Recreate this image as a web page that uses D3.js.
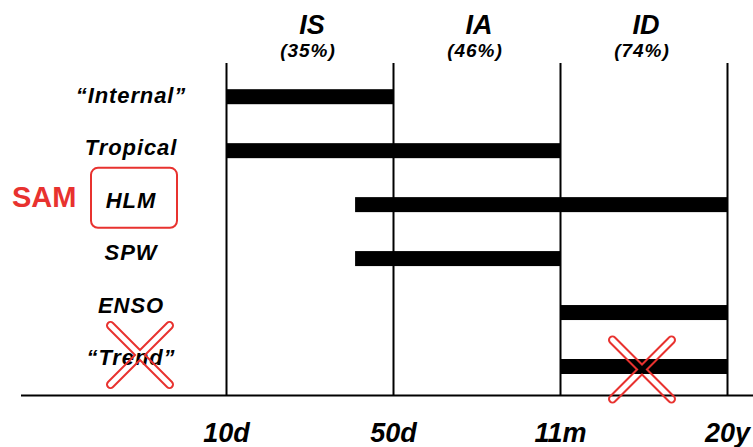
<!DOCTYPE html>
<html>
<head>
<meta charset="utf-8">
<script src="https://cdn.jsdelivr.net/npm/d3@7"></script>
<style>
html,body{margin:0;padding:0;background:#fff;}
svg{display:block;}
text{font-family:"Liberation Sans",Arial,Helvetica,sans-serif;}
</style>
</head>
<body>
<svg id="chart" width="753" height="447"></svg>
<script>
// ---- data ----
const categories = ["\u201CInternal\u201D", "Tropical", "HLM", "SPW", "ENSO", "\u201CTrend\u201D"];
const barStart = [0, 0, 0.77, 0.77, 2, 2];   // in timescale-boundary units
const barEnd   = [1, 2, 3, 2, 3, 3];
const tickLabels = ["10d", "50d", "11m", "20y"];
const classNames = ["IS", "IA", "ID"];
const classPct = ["(35%)", "(46%)", "(74%)"];
const groupLabel = "SAM";
const groupMember = "HLM";
const crossedRows = ["\u201CTrend\u201D"];

const red = "#e8322f";
const W = 753, H = 447;
const svg = d3.select("#chart");

const x = d3.scaleLinear().domain([0, 3]).range([226.5, 727.5]);
const yBar = d3.scalePoint().domain(categories).range([96.7, 366.5]);
const yLab = d3.scalePoint().domain(categories).range([103, 365]);
const baseY = 395.5, topY = 63;
const barH = 15;
const labelX = 131;

// vertical boundary lines
svg.append("g").selectAll("line").data(tickLabels).join("line")
  .attr("x1", (d, i) => x(i)).attr("x2", (d, i) => x(i))
  .attr("y1", topY).attr("y2", baseY)
  .attr("stroke", "#000").attr("stroke-width", 2);

// baseline
svg.append("line").attr("x1", 21).attr("x2", W).attr("y1", baseY).attr("y2", baseY)
  .attr("stroke", "#000").attr("stroke-width", 2);

// bars
svg.append("g").selectAll("rect").data(categories).join("rect")
  .attr("x", (d, i) => x(barStart[i]))
  .attr("width", (d, i) => x(barEnd[i]) - x(barStart[i]))
  .attr("y", d => yBar(d) - barH / 2)
  .attr("height", barH)
  .attr("fill", "#000");

// tick labels (bottom axis)
svg.append("g").selectAll("text").data(tickLabels).join("text")
  .attr("x", (d, i) => x(i)).attr("y", 442)
  .attr("text-anchor", "middle")
  .attr("font-size", 27).attr("font-weight", "bold").attr("font-style", "italic")
  .text(d => d);

// class headers
const mid = i => (x(i) + x(i + 1)) / 2;
svg.append("g").selectAll("text").data(classNames).join("text")
  .attr("x", (d, i) => mid(i) + 2).attr("y", 34)
  .attr("text-anchor", "middle")
  .attr("font-size", 27).attr("font-weight", "bold").attr("font-style", "italic")
  .text(d => d);
svg.append("g").selectAll("text").data(classPct).join("text")
  .attr("x", (d, i) => mid(i) - 2).attr("y", 57)
  .attr("text-anchor", "middle")
  .attr("font-size", 19).attr("font-weight", "bold").attr("font-style", "italic")
  .attr("letter-spacing", 1)
  .text(d => d);

// row labels
svg.append("g").selectAll("text").data(categories).join("text")
  .attr("x", labelX).attr("y", d => yLab(d))
  .attr("text-anchor", "middle")
  .attr("font-size", 22).attr("font-weight", "bold").attr("font-style", "italic")
  .attr("letter-spacing", 0.9)
  .text(d => d);

// SAM group label + box around HLM
svg.append("text").attr("x", 12).attr("y", 206.5)
  .attr("font-size", 29).attr("font-weight", "bold").attr("fill", red)
  .text(groupLabel);
const hy = yLab(groupMember);
svg.append("rect").attr("x", 91).attr("y", hy - 40).attr("width", 86).attr("height", 60)
  .attr("rx", 7).attr("fill", "none").attr("stroke", red).attr("stroke-width", 2);

// outlined crosses (union outline, transparent interior)
const crosses = [
  {cx: labelX + 9, cy: yLab(crossedRows[0]) - 10},
  {cx: 642, cy: yBar(crossedRows[0]) + 3}
];
const half = 29.5;
const defs = svg.append("defs");
crosses.forEach((c, k) => {
  const segs = [[c.cx - half, c.cy - half, c.cx + half, c.cy + half],
                [c.cx - half, c.cy + half, c.cx + half, c.cy - half]];
  const m = defs.append("mask").attr("id", "xm" + k).attr("maskUnits", "userSpaceOnUse")
    .attr("x", 0).attr("y", 0).attr("width", W).attr("height", H);
  m.append("rect").attr("width", W).attr("height", H).attr("fill", "#fff");
  m.selectAll("line").data(segs).join("line")
    .attr("x1", s => s[0]).attr("y1", s => s[1]).attr("x2", s => s[2]).attr("y2", s => s[3])
    .attr("stroke", "#000").attr("stroke-width", 5).attr("stroke-linecap", "round");
  svg.append("g").attr("mask", "url(#xm" + k + ")").selectAll("line").data(segs).join("line")
    .attr("x1", s => s[0]).attr("y1", s => s[1]).attr("x2", s => s[2]).attr("y2", s => s[3])
    .attr("stroke", red).attr("stroke-width", 9).attr("stroke-linecap", "round");
});
</script>
</body>
</html>
